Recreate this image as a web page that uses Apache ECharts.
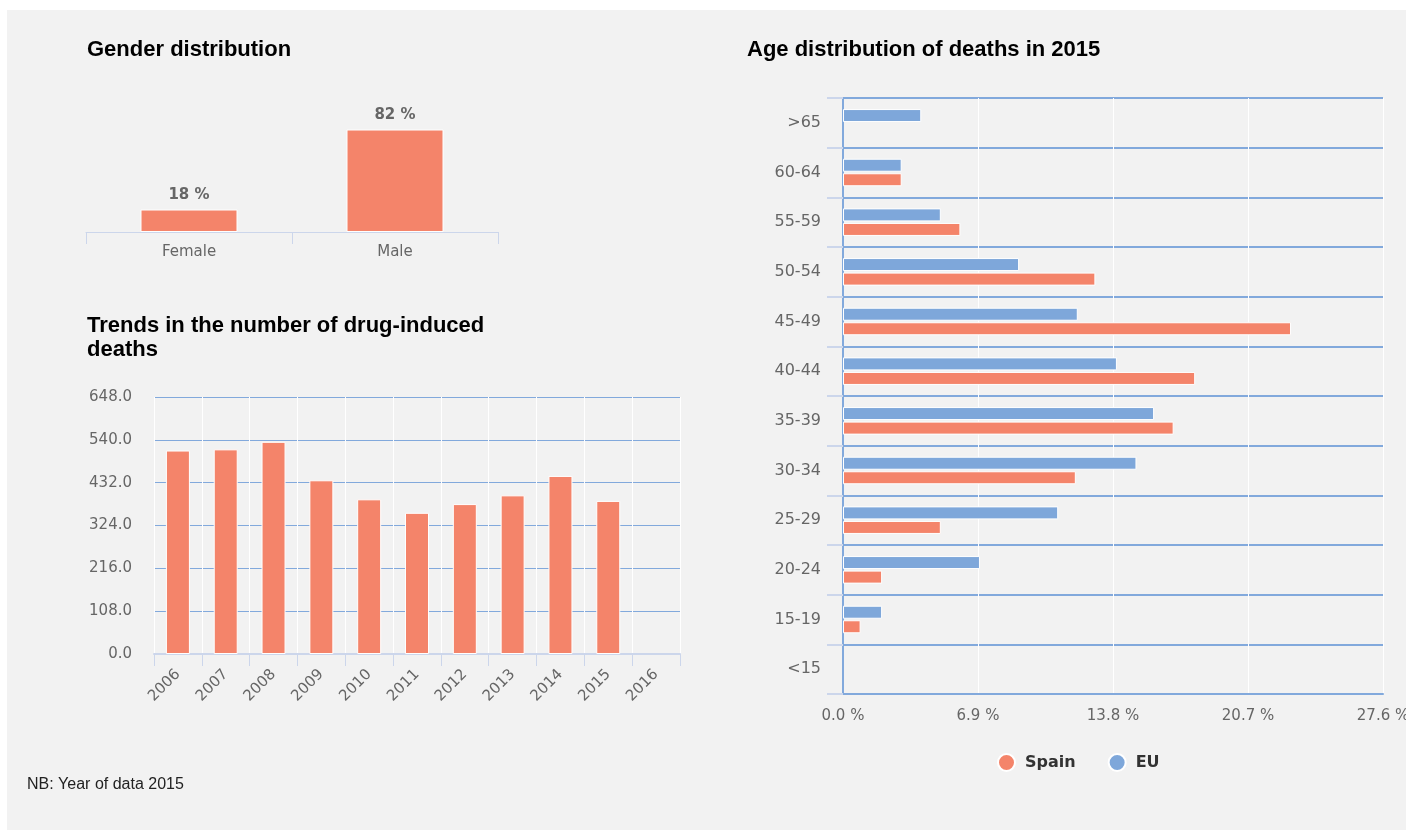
<!DOCTYPE html>
<html>
<head>
<meta charset="utf-8">
<script src="https://cdn.jsdelivr.net/npm/echarts@6/dist/echarts.min.js"></script>
<style>
html,body{margin:0;padding:0;background:#ffffff;}
#panel{position:absolute;left:7px;top:10px;width:1399px;height:820px;background:#f2f2f2;}
#chart{position:absolute;left:0;top:0;width:1406px;height:830px;}
</style>
</head>
<body>
<div id="panel"></div>
<div id="chart"></div>
<script>
// ---- data ----
const genderCategories = ['Female', 'Male'];
const genderValues = [18, 82];

const trendYears = ['2006','2007','2008','2009','2010','2011','2012','2013','2014','2015','2016'];
const trendValues = [513, 516, 535, 438, 390, 356, 378, 400, 449, 386, null];

const ageGroups = ['>65','60-64','55-59','50-54','45-49','40-44','35-39','30-34','25-29','20-24','15-19','<15'];
const spainValues = [null, 3.0, 6.0, 12.9, 22.9, 18.0, 16.9, 11.9, 5.0, 2.0, 0.9, null];
const euValues    = [4.0, 3.0, 5.0, 9.0, 12.0, 14.0, 15.9, 15.0, 11.0, 7.0, 2.0, null];

const trendTicks = [0, 108, 648];   // min, interval, max
const ageTicks = [0, 6.9, 27.6];    // min, interval, max

const titles = ['Gender distribution', 'Trends in the number of drug-induced\ndeaths', 'Age distribution of deaths in 2015'];
const footnote = 'NB: Year of data 2015';

// ---- styles ----
const SPAIN = '#f4846a';
const EU = '#7ea7da';
const GRIDBLUE = '#82a9dc';
const AXISLIGHT = '#ccd6eb';
const LABEL = '#666666';
const FONT = 'DejaVu Sans';
const TITLEFONT = 'Liberation Sans';

const chart = echarts.init(document.getElementById('chart'));

const titleStyle = {fontFamily: TITLEFONT, fontWeight: 'bold', fontSize: 22, color: '#000', lineHeight: 24};

chart.setOption({
  backgroundColor: 'transparent',
  animation: false,
  title: [
    {text: titles[0], left: 87, top: 38, padding: 0, textStyle: titleStyle},
    {text: titles[1], left: 87, top: 314, padding: 0, textStyle: titleStyle},
    {text: titles[2], left: 747, top: 38, padding: 0, textStyle: titleStyle},
    {text: footnote, left: 27, top: 777, padding: 0, textStyle: {fontFamily: TITLEFONT, fontWeight: 'normal', fontSize: 16, color: '#222'}}
  ],
  legend: {
    data: ['Spain', 'EU'],
    left: 992, top: 748,
    itemWidth: 27, itemHeight: 17, itemGap: 32,
    icon: 'circle',
    textStyle: {fontFamily: FONT, fontWeight: 'bold', fontSize: 16, color: '#333'}
  },
  grid: [
    {left: 86, top: 107, width: 412, height: 125, outerBoundsMode: 'none', containLabel: false},
    {left: 154, top: 397, width: 526, height: 257, outerBoundsMode: 'none', containLabel: false},
    {left: 843, top: 98, width: 540, height: 596, outerBoundsMode: 'none', containLabel: false}
  ],
  xAxis: [
    {
      gridIndex: 0, type: 'category', data: genderCategories,
      axisLine: {lineStyle: {color: AXISLIGHT, width: 1}},
      axisTick: {show: true, length: 12, lineStyle: {color: AXISLIGHT}},
      axisLabel: {color: LABEL, fontFamily: FONT, fontSize: 15, margin: 13},
      splitLine: {show: false}
    },
    {
      gridIndex: 1, type: 'category', data: trendYears,
      axisLine: {lineStyle: {color: AXISLIGHT, width: 2}},
      axisTick: {show: true, length: 12, lineStyle: {color: AXISLIGHT}},
      axisLabel: {color: LABEL, fontFamily: FONT, fontSize: 15, rotate: 45, margin: 18, interval: 0},
      splitLine: {show: true, lineStyle: {color: '#ffffff', width: 1}}
    },
    {
      gridIndex: 2, type: 'value', min: ageTicks[0], interval: ageTicks[1], max: ageTicks[2],
      axisLine: {show: true, lineStyle: {color: GRIDBLUE, width: 2}},
      axisTick: {show: false},
      axisLabel: {color: LABEL, fontFamily: FONT, fontSize: 15, margin: 15,
        formatter: v => v.toFixed(1) + ' %'},
      splitLine: {show: true, lineStyle: {color: '#ffffff', width: 1}}
    }
  ],
  yAxis: [
    {
      gridIndex: 0, type: 'value', min: 0, max: 100, show: false
    },
    {
      gridIndex: 1, type: 'value', min: trendTicks[0], interval: trendTicks[1], max: trendTicks[2],
      axisLine: {show: false}, axisTick: {show: false},
      axisLabel: {color: LABEL, fontFamily: FONT, fontSize: 15, margin: 22,
        formatter: v => v.toFixed(1)},
      splitLine: {show: true, lineStyle: {color: GRIDBLUE, width: 1}}
    },
    {
      gridIndex: 2, type: 'category', data: ageGroups, inverse: true,
      axisLine: {show: true, lineStyle: {color: GRIDBLUE, width: 2}},
      axisTick: {show: true, length: 16, lineStyle: {color: AXISLIGHT, width: 2}},
      axisLabel: {color: LABEL, fontFamily: FONT, fontSize: 16, margin: 22},
      splitLine: {show: true, lineStyle: {color: GRIDBLUE, width: 2}}
    }
  ],
  series: [
    {
      type: 'bar', xAxisIndex: 0, yAxisIndex: 0, data: genderValues,
      barWidth: 97,
      itemStyle: {color: SPAIN, borderColor: '#ffffff', borderWidth: 1},
      label: {show: true, position: 'top', distance: 7, formatter: '{c} %',
        color: LABEL, fontFamily: FONT, fontWeight: 'bold', fontSize: 15},
      silent: true
    },
    {
      type: 'bar', xAxisIndex: 1, yAxisIndex: 1, data: trendValues,
      barWidth: 24,
      itemStyle: {color: SPAIN, borderColor: '#ffffff', borderWidth: 1},
      silent: true
    },
    {
      name: 'EU', type: 'bar', xAxisIndex: 2, yAxisIndex: 2, data: euValues,
      barWidth: 13, barGap: '12%',
      itemStyle: {color: EU, borderColor: '#ffffff', borderWidth: 1}
    },
    {
      name: 'Spain', type: 'bar', xAxisIndex: 2, yAxisIndex: 2, data: spainValues,
      barWidth: 13, barGap: '12%',
      itemStyle: {color: SPAIN, borderColor: '#ffffff', borderWidth: 1}
    }
  ]
});
</script>
</body>
</html>
